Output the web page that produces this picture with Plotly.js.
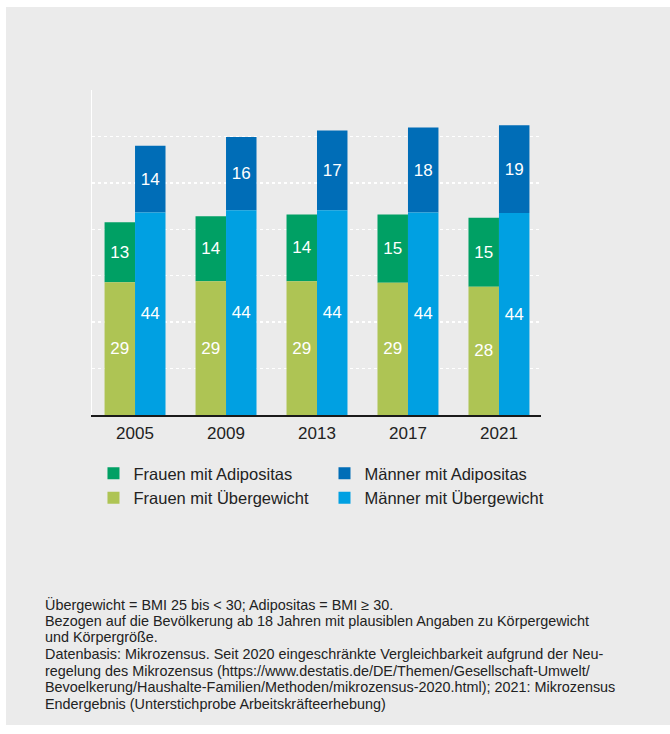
<!DOCTYPE html>
<html>
<head>
<meta charset="utf-8">
<script src="https://cdn.plot.ly/plotly-3.0.1.min.js"></script>
<style>
  html, body { margin: 0; padding: 0; background: #ffffff; }
  #chart { position: absolute; left: 6px; top: 7px; width: 664px; height: 718px; }
</style>
</head>
<body>
<div id="chart"></div>
<script>
// ---- data (percent) ----
const years = ["2005", "2009", "2013", "2017", "2021"];
const frauenUebergewicht = [28.6, 28.8, 28.8, 28.5, 27.6];
const frauenAdipositas   = [12.9, 14.0, 14.4, 14.7, 14.9];
const maennerUebergewicht = [43.6, 44.1, 44.1, 43.6, 43.5];
const maennerAdipositas   = [14.4, 15.8, 17.2, 18.3, 18.9];

const legendNames = {
  fa: "Frauen mit Adipositas",
  ma: "Männer mit Adipositas",
  fu: "Frauen mit Übergewicht",
  mu: "Männer mit Übergewicht"
};

const footnote = [
  "Übergewicht = BMI 25 bis < 30; Adipositas = BMI ≥ 30.",
  "Bezogen auf die Bevölkerung ab 18 Jahren mit plausiblen Angaben zu Körpergewicht",
  "und Körpergröße.",
  "Datenbasis: Mikrozensus. Seit 2020 eingeschränkte Vergleichbarkeit aufgrund der Neu-",
  "regelung des Mikrozensus (https://www.destatis.de/DE/Themen/Gesellschaft-Umwelt/",
  "Bevoelkerung/Haushalte-Familien/Methoden/mikrozensus-2020.html); 2021: Mikrozensus",
  "Endergebnis (Unterstichprobe Arbeitskräfteerhebung)"
];

const colors = { fa: "#00a064", fu: "#aec454", ma: "#006db7", mu: "#00a0e2" };
const FONT = "Liberation Sans, Arial, Helvetica, sans-serif";
const barText = { color: "#ffffff", size: 17, family: FONT };

function barTrace(key, y, base, group, rank, legendId) {
  return {
    type: "bar",
    x: years,
    y: y,
    base: base,
    name: legendNames[key],
    offsetgroup: group,
    legend: legendId,
    legendrank: rank,
    marker: { color: colors[key], line: { width: 0 } },
    texttemplate: "%{y:.0f}",
    textposition: "inside",
    insidetextanchor: "middle",
    textangle: 0,
    constraintext: "none",
    textfont: barText,
    hoverinfo: "skip"
  };
}

const data = [
  barTrace("fa", frauenAdipositas, frauenUebergewicht, "w", 1, "legend"),
  barTrace("ma", maennerAdipositas, maennerUebergewicht, "m", 1, "legend2"),
  barTrace("fu", frauenUebergewicht, null, "w", 2, "legend"),
  barTrace("mu", maennerUebergewicht, null, "m", 2, "legend2")
];

// plot-area geometry (px inside the chart div) used to place the footnote lines
const PLOT_TOP = 83, PLOT_H = 325;
const footY0 = 597, footStep = 16.67;
const footAnnotations = footnote.map((line, i) => ({
  xref: "paper", yref: "paper",
  x: -0.1091,
  y: 1 - (footY0 + i * footStep - PLOT_TOP) / PLOT_H,
  xanchor: "left", yanchor: "middle",
  align: "left",
  showarrow: false,
  text: line,
  font: { size: 14.4, color: "#222222", family: FONT }
}));

function legendBox(x) {
  return {
    orientation: "v",
    x: x,
    xanchor: "left",
    y: -0.126,
    yanchor: "top",
    traceorder: "normal",
    bgcolor: "rgba(0,0,0,0)",
    font: { size: 16.5, color: "#222222", family: FONT }
  };
}

const layout = {
  width: 664,
  height: 718,
  paper_bgcolor: "#ebebeb",
  plot_bgcolor: "rgba(0,0,0,0)",
  margin: { l: 86, r: 129, t: PLOT_TOP, b: 310, pad: 0 },
  barmode: "group",
  bargap: 0.33,
  bargroupgap: 0,
  showlegend: true,
  font: { family: FONT, color: "#222222" },
  xaxis: {
    type: "category",
    range: [-0.473, 4.462],
    showline: true,
    linecolor: "#1a1a1a",
    linewidth: 1.5,
    ticks: "",
    ticklabelstandoff: 2,
    showgrid: false,
    tickfont: { size: 17, color: "#222222", family: FONT },
    fixedrange: true
  },
  yaxis: {
    range: [0, 70],
    dtick: 10,
    tick0: 0,
    showticklabels: false,
    ticks: "",
    showgrid: true,
    gridcolor: "#ffffff",
    gridwidth: 1.5,
    griddash: "dot",
    zeroline: false,
    showline: true,
    linecolor: "#ffffff",
    linewidth: 1.5,
    fixedrange: true
  },
  legend: legendBox(0.0033),
  legend2: legendBox(0.5178),
  annotations: footAnnotations
};

Plotly.newPlot("chart", data, layout, { displayModeBar: false, staticPlot: true });
</script>
</body>
</html>
